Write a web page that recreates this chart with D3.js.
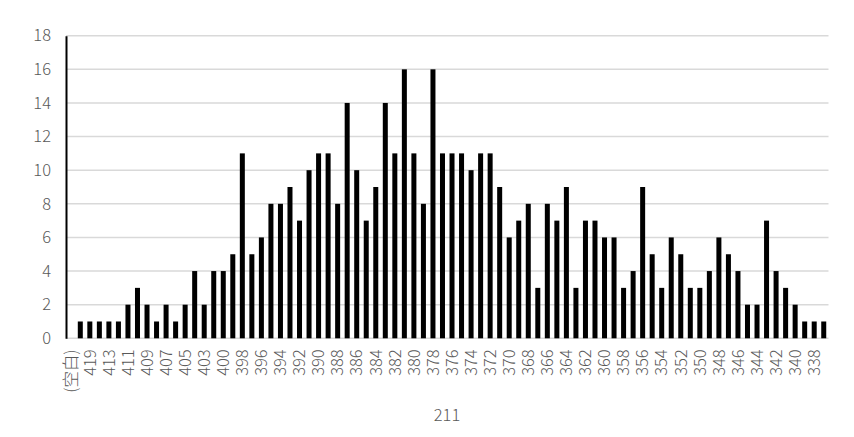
<!DOCTYPE html>
<html>
<head>
<meta charset="utf-8">
<script src="https://cdn.jsdelivr.net/npm/d3@7/dist/d3.min.js"></script>
<style>
  html, body { margin: 0; padding: 0; background: #fff; }
  svg { display: block; }
  text { font-family: "Noto Sans CJK SC", "Noto Sans", sans-serif; font-weight: 300; fill: #595959; }
</style>
</head>
<body>
<svg id="chart" width="854" height="437"></svg>
<script>
const categories = ["(空白)","420","419","416","413","412","411","410","409","408",
  "407","406","405","404","403","401","400","399","398","397",
  "396","395","394","393","392","391","390","389","388","387",
  "386","385","384","383","382","381","380","379","378","377",
  "376","375","374","373","372","371","370","369","368","367",
  "366","365","364","363","362","361","360","359","358","357",
  "356","355","354","353","352","351","350","349","348","347",
  "346","345","344","343","342","341","340","339","338","337"];
const values = [0,1,1,1,1,1,2,3,2,1,
  2,1,2,4,2,4,4,5,11,5,
  6,8,8,9,7,10,11,11,8,14,
  10,7,9,14,11,16,11,8,16,11,
  11,11,10,11,11,9,6,7,8,3,
  8,7,9,3,7,7,6,6,3,4,
  9,5,3,6,5,3,3,4,6,5,
  4,2,2,7,4,3,2,1,1,1];
const yTicks = [0,2,4,6,8,10,12,14,16,18];
const axisTitle = "211";

(function () {
const svg = d3.select("#chart");
const pLeft = 66, pRight = 828.5, pTop = 35.7, pBottom = 338.3;

const x = d3.scaleBand().domain(categories).range([pLeft, pRight])
  .paddingInner(0.475).paddingOuter(0.2375);
const y = d3.scaleLinear().domain([0, 18]).range([pBottom, pTop]);

// gridlines
svg.append("g").selectAll("line").data(yTicks).join("line")
  .attr("x1", pLeft).attr("x2", pRight)
  .attr("y1", d => y(d)).attr("y2", d => y(d))
  .attr("stroke", "#d9d9d9").attr("stroke-width", 1.5);

// bars
svg.append("g").selectAll("rect").data(categories).join("rect")
  .attr("x", (d) => x(d))
  .attr("width", x.bandwidth())
  .attr("y", (d, i) => y(values[i]))
  .attr("height", (d, i) => y(0) - y(values[i]))
  .attr("fill", "#000");

// y axis
const yAxis = svg.append("g").attr("transform", `translate(${pLeft},0)`)
  .call(d3.axisLeft(y).tickValues(yTicks).tickSize(0).tickPadding(15));
yAxis.select(".domain").attr("stroke", "#000").attr("stroke-width", 2);
yAxis.selectAll("text").style("font-size", "16.5px").attr("fill", "#595959");

// x axis
const shown = categories.filter((d, i) => i % 2 === 0);
const xAxis = svg.append("g").attr("transform", `translate(0,${pBottom})`)
  .call(d3.axisBottom(x).tickValues(shown).tickSize(0));
xAxis.select(".domain").remove();
xAxis.selectAll("text")
  .style("font-size", "16.5px")
  .attr("fill", "#595959")
  .attr("text-anchor", "end")
  .attr("dy", "0.35em")
  .attr("transform", "translate(0,11) rotate(-90)")
  .attr("x", 0).attr("y", 0);

// axis title
svg.append("text").attr("x", 447).attr("y", 421)
  .attr("text-anchor", "middle").style("font-size", "16.5px").text(axisTitle);
})();
</script>
</body>
</html>
